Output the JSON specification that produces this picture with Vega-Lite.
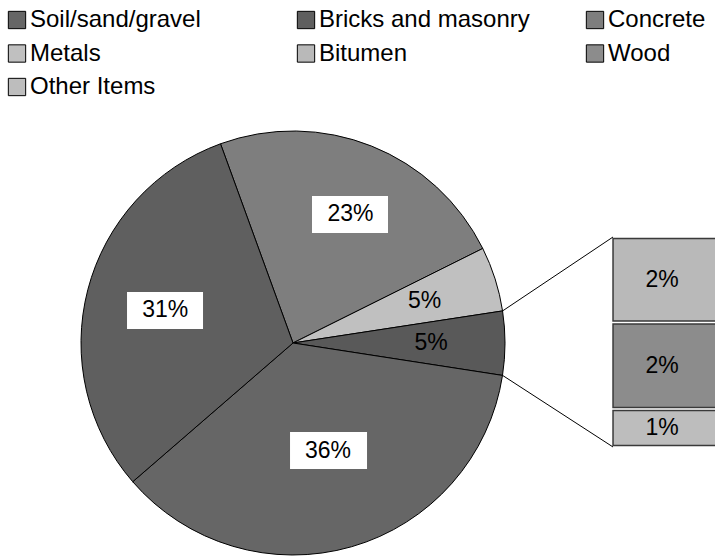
{
  "$schema": "https://vega.github.io/schema/vega-lite/v6.json",
  "width": 715,
  "height": 557,
  "padding": 0,
  "autosize": "none",
  "background": "white",
  "config": {"view": {"stroke": null}, "font": "Liberation Sans"},
  "datasets": {
    "pie": [
      {"item": "Concrete", "label": "23%", "pct": 23.2, "i": 1},
      {"item": "Metals", "label": "5%", "pct": 4.94, "i": 2},
      {"item": "Other", "label": "5%", "pct": 4.86, "i": 3},
      {"item": "Soil/sand/gravel", "label": "36%", "pct": 36.2, "i": 4},
      {"item": "Bricks and masonry", "label": "31%", "pct": 30.8, "i": 5}
    ],
    "bar": [
      {"item": "Bitumen", "label": "2%", "pct": 1.98, "i": 1},
      {"item": "Wood", "label": "2%", "pct": 2.0, "i": 2},
      {"item": "Other Items", "label": "1%", "pct": 0.88, "i": 3}
    ]
  },
  "layer": [
    {
      "data": {"name": "pie"},
      "mark": {"type": "arc", "outerRadius": 212, "stroke": "black", "strokeWidth": 1},
      "encoding": {
        "x": {"datum": 0, "type": "quantitative", "scale": {"domain": [-6.781, 9.766], "nice": false, "zero": false}, "axis": null},
        "y": {"datum": 2.407, "type": "quantitative", "scale": {"domain": [-2.546, 10.345], "nice": false, "zero": false}, "axis": null},
        "theta": {"field": "pct", "type": "quantitative", "stack": true, "scale": {"range": [-0.34907, 5.93412]}},
        "order": {"field": "i"},
        "color": {
          "field": "item",
          "type": "nominal",
          "scale": {
            "domain": ["Soil/sand/gravel", "Bricks and masonry", "Concrete", "Metals", "Bitumen", "Wood", "Other Items", "Other"],
            "range": ["#666666", "#5f5f5f", "#7e7e7e", "#c0c0c0", "#b9b9b9", "#8c8c8c", "#bdbdbd", "#595959"]
          },
          "legend": {
            "values": ["Soil/sand/gravel", "Bricks and masonry", "Concrete", "Metals", "Bitumen", "Wood", "Other Items"],
            "title": null,
            "orient": "none",
            "legendX": 5,
            "legendY": 8,
            "columns": 3,
            "direction": "horizontal",
            "gridAlign": "all",
            "columnPadding": 53,
            "rowPadding": 9.5,
            "symbolType": "square",
            "symbolSize": 300,
            "symbolStrokeWidth": 1,
            "labelFontSize": 24,
            "labelFont": "Liberation Sans",
            "labelColor": "black",
            "labelOffset": 1,
            "labelLimit": 400,
            "encode": {
              "symbols": {
                "update": {
                  "stroke": [
                    {"test": "indexof(['Soil/sand/gravel','Bricks and masonry','Concrete'], datum.value) >= 0", "value": "#222222"},
                    {"value": "transparent"}
                  ]
                }
              }
            }
          }
        }
      }
    },
    {
      "data": {"values": [{}]},
      "mark": {"type": "point", "shape": "M-1,-0.487L1,-0.487L1,0.487L-1,0.487Z", "size": 5776, "filled": true, "color": "white", "opacity": 1},
      "encoding": {
        "x": {"datum": 1.319, "type": "quantitative"},
        "y": {"datum": 5.381, "type": "quantitative"}
      }
    },
    {
      "data": {"values": [{}]},
      "mark": {"type": "point", "shape": "M-1,-0.487L1,-0.487L1,0.487L-1,0.487Z", "size": 5776, "filled": true, "color": "white", "opacity": 1},
      "encoding": {
        "x": {"datum": -2.962, "type": "quantitative"},
        "y": {"datum": 3.159, "type": "quantitative"}
      }
    },
    {
      "data": {"values": [{}]},
      "mark": {"type": "point", "shape": "M-1,-0.48L1,-0.48L1,0.48L-1,0.48Z", "size": 5929, "filled": true, "color": "white", "opacity": 1},
      "encoding": {
        "x": {"datum": 0.822, "type": "quantitative"},
        "y": {"datum": -0.081, "type": "quantitative"}
      }
    },
    {
      "data": {"name": "pie"},
      "mark": {"type": "text", "fontSize": 23, "align": "center", "baseline": "middle", "color": "black", "radius": 139, "dx": 6},
      "encoding": {
        "x": {"datum": 0, "type": "quantitative"},
        "y": {"datum": 2.407, "type": "quantitative"},
        "theta": {"field": "pct", "type": "quantitative", "stack": true},
        "order": {"field": "i"},
        "text": {"condition": {"test": "datum.item === 'Concrete'", "field": "label"}, "value": ""}
      }
    },
    {
      "data": {"name": "pie"},
      "mark": {"type": "text", "fontSize": 23, "align": "center", "baseline": "middle", "color": "black", "radius": 138},
      "encoding": {
        "x": {"datum": 0, "type": "quantitative"},
        "y": {"datum": 2.407, "type": "quantitative"},
        "theta": {"field": "pct", "type": "quantitative", "stack": true},
        "order": {"field": "i"},
        "text": {"condition": {"test": "datum.item === 'Metals' || datum.item === 'Other'", "field": "label"}, "value": ""}
      }
    },
    {
      "data": {"name": "pie"},
      "mark": {"type": "text", "fontSize": 23, "align": "center", "baseline": "middle", "color": "black", "radius": 132},
      "encoding": {
        "x": {"datum": 0, "type": "quantitative"},
        "y": {"datum": 2.407, "type": "quantitative"},
        "theta": {"field": "pct", "type": "quantitative", "stack": true},
        "order": {"field": "i"},
        "text": {"condition": {"test": "datum.item === 'Bricks and masonry'", "field": "label"}, "value": ""}
      }
    },
    {
      "data": {"name": "pie"},
      "mark": {"type": "text", "fontSize": 23, "align": "center", "baseline": "middle", "color": "black", "radius": 112, "dx": 4},
      "encoding": {
        "x": {"datum": 0, "type": "quantitative"},
        "y": {"datum": 2.407, "type": "quantitative"},
        "theta": {"field": "pct", "type": "quantitative", "stack": true},
        "order": {"field": "i"},
        "text": {"condition": {"test": "datum.item === 'Soil/sand/gravel'", "field": "label"}, "value": ""}
      }
    },
    {
      "data": {"name": "bar"},
      "transform": [{"stack": "pct", "groupby": [], "sort": [{"field": "i", "order": "descending"}], "as": ["lo", "hi"]}],
      "mark": {"type": "bar", "stroke": "#3a3a3a", "strokeWidth": 1.5, "yOffset": 1.5, "y2Offset": -1.5},
      "encoding": {
        "x": {"datum": 7.406, "type": "quantitative"},
        "x2": {"datum": 10.2},
        "y": {"field": "hi", "type": "quantitative"},
        "y2": {"field": "lo"},
        "color": {"field": "item", "type": "nominal"}
      }
    },
    {
      "data": {"name": "bar"},
      "mark": {"type": "text", "fontSize": 23, "align": "center", "baseline": "middle", "color": "black"},
      "encoding": {
        "x": {"datum": 8.54, "type": "quantitative"},
        "y": {"field": "pct", "type": "quantitative", "stack": "zero", "bandPosition": 0.5},
        "order": {"field": "i", "sort": "descending"},
        "text": {"field": "label"}
      }
    },
    {
      "data": {"values": [{}]},
      "mark": {"type": "rule", "color": "black", "strokeWidth": 1},
      "encoding": {
        "x": {"datum": 4.85, "type": "quantitative"},
        "y": {"datum": 3.149, "type": "quantitative"},
        "x2": {"datum": 7.406},
        "y2": {"datum": 4.86}
      }
    },
    {
      "data": {"values": [{}]},
      "mark": {"type": "rule", "color": "black", "strokeWidth": 1},
      "encoding": {
        "x": {"datum": 4.85, "type": "quantitative"},
        "y": {"datum": 1.657, "type": "quantitative"},
        "x2": {"datum": 7.406},
        "y2": {"datum": 0}
      }
    }
  ]
}
